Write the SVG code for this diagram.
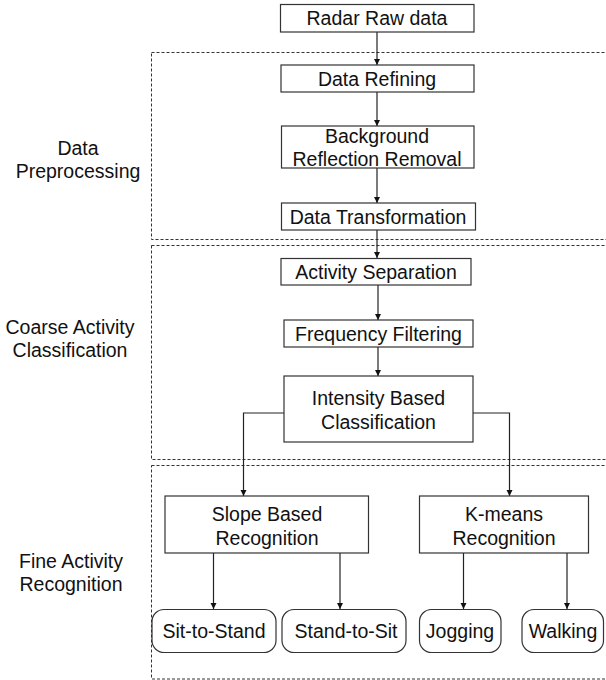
<svg xmlns="http://www.w3.org/2000/svg" width="606" height="680" viewBox="0 0 606 680">
<defs>
<style>
text{font-family:"Liberation Sans",Arial,Helvetica,sans-serif;font-size:19.5px;fill:#111;text-anchor:middle}
.box{fill:#fff;stroke:#333;stroke-width:1.2}
.grp{fill:none;stroke:#333;stroke-width:1;stroke-dasharray:3 2}
.con{fill:none;stroke:#222;stroke-width:1.2}
</style>
<marker id="ah" viewBox="0 0 10 10" refX="10" refY="5" markerWidth="6" markerHeight="8" markerUnits="userSpaceOnUse" orient="auto">
<path d="M0,0 L10,5 L0,10 z" fill="#111"/>
</marker>
</defs>
<rect width="606" height="680" fill="#fff"/>

<g id="groups">
<rect class="grp" x="151.5" y="52.5" width="470" height="187"/>
<rect class="grp" x="151.5" y="245.5" width="470" height="214"/>
<rect class="grp" x="151.5" y="465.5" width="470" height="213.5"/>
</g>

<g id="group-labels">
<text x="78" y="155">Data</text>
<text x="78" y="178">Preprocessing</text>
<text x="70" y="334">Coarse Activity</text>
<text x="70" y="357">Classification</text>
<text x="71" y="568">Fine Activity</text>
<text x="71" y="591">Recognition</text>
</g>

<g id="connectors">
<line class="con" x1="377" y1="32" x2="377" y2="65" marker-end="url(#ah)"/>
<line class="con" x1="377" y1="92" x2="377" y2="126" marker-end="url(#ah)"/>
<line class="con" x1="377" y1="168" x2="377" y2="203" marker-end="url(#ah)"/>
<line class="con" x1="377" y1="230" x2="377" y2="258" marker-end="url(#ah)"/>
<line class="con" x1="378" y1="285" x2="378" y2="320" marker-end="url(#ah)"/>
<line class="con" x1="378" y1="347" x2="378" y2="376" marker-end="url(#ah)"/>
<polyline class="con" points="284,413 243.5,413 243.5,496" marker-end="url(#ah)"/>
<polyline class="con" points="473,413 509.5,413 509.5,496" marker-end="url(#ah)"/>
<line class="con" x1="213.5" y1="553" x2="213.5" y2="609" marker-end="url(#ah)"/>
<line class="con" x1="340" y1="553" x2="340" y2="609" marker-end="url(#ah)"/>
<line class="con" x1="463.5" y1="553" x2="463.5" y2="609" marker-end="url(#ah)"/>
<line class="con" x1="567" y1="553" x2="567" y2="609" marker-end="url(#ah)"/>
</g>

<g id="radar-raw-data">
<rect class="box" x="280.5" y="4.5" width="193.5" height="27.5"/>
<text x="377" y="25">Radar Raw data</text>
</g>
<g id="data-refining">
<rect class="box" x="281" y="65" width="193" height="27"/>
<text x="377" y="85.5">Data Refining</text>
</g>
<g id="background-removal">
<rect class="box" x="281.5" y="126" width="192.5" height="42"/>
<text x="377" y="142.5">Background</text>
<text x="377" y="166">Reflection Removal</text>
</g>
<g id="data-transformation">
<rect class="box" x="281.5" y="203" width="194" height="27"/>
<text x="378" y="223.5">Data Transformation</text>
</g>
<g id="activity-separation">
<rect class="box" x="281" y="258.5" width="190" height="26.5"/>
<text x="376" y="278.5">Activity Separation</text>
</g>
<g id="frequency-filtering">
<rect class="box" x="284" y="320" width="189" height="27"/>
<text x="378.5" y="340.5">Frequency Filtering</text>
</g>
<g id="intensity-classification">
<rect class="box" x="284" y="376" width="189" height="66"/>
<text x="378.5" y="405">Intensity Based</text>
<text x="378.5" y="428.5">Classification</text>
</g>
<g id="slope-recognition">
<rect class="box" x="165" y="496" width="203.5" height="57"/>
<text x="267" y="521">Slope Based</text>
<text x="267" y="544.5">Recognition</text>
</g>
<g id="kmeans-recognition">
<rect class="box" x="419.5" y="496" width="169" height="57"/>
<text x="504" y="521">K-means</text>
<text x="504" y="544.5">Recognition</text>
</g>
<g id="sit-to-stand">
<rect class="box" x="152" y="609.5" width="124" height="43" rx="12"/>
<text x="214" y="637.5">Sit-to-Stand</text>
</g>
<g id="stand-to-sit">
<rect class="box" x="282" y="609.5" width="124" height="43" rx="12"/>
<text x="346" y="637.5">Stand-to-Sit</text>
</g>
<g id="jogging">
<rect class="box" x="419.5" y="609.5" width="81.5" height="43" rx="12"/>
<text x="460" y="637.5">Jogging</text>
</g>
<g id="walking">
<rect class="box" x="522" y="609.5" width="81.5" height="43" rx="12"/>
<text x="563" y="637.5">Walking</text>
</g>
</svg>
